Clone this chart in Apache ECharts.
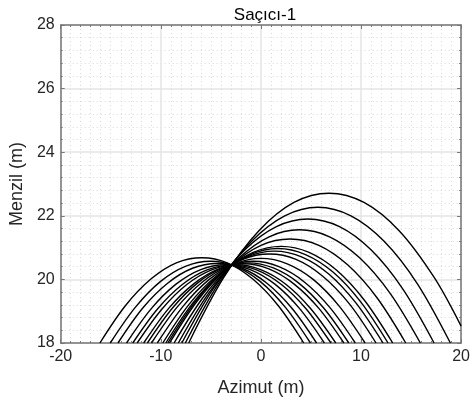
<!DOCTYPE html>
<html>
<head>
<meta charset="utf-8">
<script src="https://cdn.jsdelivr.net/npm/echarts@6/dist/echarts.min.js"></script>
<style>
html,body{margin:0;padding:0;background:#fff;}
#chart{width:473px;height:402px;}
</style>
</head>
<body>
<div id="chart"></div>
<script>
// Axis settings
const xRange = [-20, 20];
const yRange = [18, 28];
const xStep = 10;
const yStep = 2;

// Curves: [azimut, menzil] pairs
const curve01 = [[-16.08,18],[-13.54,19.17],[-10.99,20.01],[-8.45,20.52],[-5.9,20.68],[-3.36,20.52],[-0.81,20.01],[1.74,19.17],[4.28,18]];
const curve02 = [[-15.05,18],[-12.55,19.12],[-10.05,19.93],[-7.55,20.41],[-5.05,20.57],[-2.55,20.41],[-0.05,19.93],[2.45,19.12],[4.95,18]];
const curve03 = [[-14.28,18],[-11.8,19.10],[-9.32,19.88],[-6.84,20.35],[-4.36,20.50],[-1.88,20.35],[0.6,19.88],[3.08,19.10],[5.56,18]];
const curve04 = [[-13.42,18],[-10.95,19.08],[-8.48,19.85],[-6.01,20.31],[-3.54,20.46],[-1.07,20.31],[1.4,19.85],[3.87,19.08],[6.34,18]];
const curve05 = [[-12.8,18],[-10.33,19.07],[-7.85,19.84],[-5.38,20.30],[-2.9,20.45],[-0.43,20.30],[2.05,19.84],[4.53,19.07],[7.0,18]];
const curve06 = [[-12.36,18],[-9.88,19.07],[-7.4,19.84],[-4.92,20.30],[-2.44,20.46],[0.04,20.30],[2.52,19.84],[5.0,19.07],[7.48,18]];
const curve07 = [[-11.71,18],[-9.21,19.09],[-6.71,19.86],[-4.21,20.33],[-1.71,20.49],[0.79,20.33],[3.29,19.86],[5.79,19.09],[8.29,18]];
const curve08 = [[-11.34,18],[-8.83,19.10],[-6.31,19.89],[-3.8,20.36],[-1.28,20.52],[1.24,20.36],[3.75,19.89],[6.27,19.10],[8.78,18]];
const curve09 = [[-10.93,18],[-8.39,19.12],[-5.84,19.92],[-3.3,20.40],[-0.75,20.57],[1.8,20.40],[4.34,19.92],[6.88,19.12],[9.43,18]];
const curve10 = [[-10.35,18],[-7.76,19.16],[-5.16,20.0],[-2.57,20.49],[0.03,20.66],[2.63,20.49],[5.22,20.0],[7.82,19.16],[10.41,18]];
const curve11 = [[-9.8,18],[-7.14,19.23],[-4.48,20.1],[-1.81,20.63],[0.85,20.8],[3.51,20.63],[6.18,20.1],[8.84,19.23],[11.5,18]];
const curve12 = [[-9.5,18],[-6.79,19.26],[-4.08,20.17],[-1.36,20.71],[1.35,20.89],[4.06,20.71],[6.78,20.17],[9.49,19.26],[12.2,18]];
const curve13 = [[-9.3,18],[-6.55,19.30],[-3.8,20.23],[-1.05,20.78],[1.7,20.97],[4.45,20.78],[7.2,20.23],[9.95,19.30],[12.7,18]];
const curve14 = [[-9.13,18],[-6.34,19.33],[-3.56,20.28],[-0.77,20.85],[2.02,21.04],[4.81,20.85],[7.6,20.28],[10.38,19.33],[13.17,18]];
const curve15 = [[-8.67,18],[-5.78,19.43],[-2.89,20.45],[0.01,21.07],[2.9,21.27],[5.79,21.07],[8.69,20.45],[11.58,19.43],[14.47,18]];
const curve16 = [[-8.25,18],[-5.23,19.56],[-2.2,20.67],[0.82,21.34],[3.84,21.56],[6.86,21.34],[9.89,20.67],[12.91,19.56],[15.93,18]];
const curve17 = [[-7.9,18],[-4.75,19.71],[-1.6,20.93],[1.55,21.66],[4.7,21.9],[7.85,21.66],[11.0,20.93],[14.15,19.71],[17.3,18]];
const curve18 = [[-7.55,18],[-4.24,19.87],[-0.93,21.2],[2.38,22.0],[5.69,22.27],[9.0,22.0],[12.31,21.2],[15.62,19.87],[18.93,18]];
const curve19 = [[-7.21,18],[-3.71,20.06],[-0.2,21.53],[3.3,22.42],[6.8,22.71],[10.3,22.42],[13.81,21.53],[17.31,20.06],[20,18.53]];

const curves = [curve01,curve02,curve03,curve04,curve05,curve06,curve07,curve08,curve09,curve10,
                curve11,curve12,curve13,curve14,curve15,curve16,curve17,curve18,curve19];

const FONT = "'Liberation Sans', Arial, Helvetica, sans-serif";
const TXT = '#262626';
const FRAME = '#777777';

const chart = echarts.init(document.getElementById('chart'), null, {renderer: 'canvas'});

function xAx(pos, main) {
  return {
    type: 'value', position: pos, min: xRange[0], max: xRange[1], interval: xStep,
    name: main ? 'Azimut (m)' : '', nameLocation: 'middle', nameGap: 36,
    nameTextStyle: {fontFamily: FONT, fontSize: 18, color: TXT},
    axisLine: {show: true, onZero: false, lineStyle: {color: FRAME, width: 1.5}},
    axisTick: {show: true, inside: true, length: 4, lineStyle: {color: FRAME}},
    minorTick: {show: true, splitNumber: 10, length: 2, lineStyle: {color: FRAME}},
    axisLabel: {show: main, margin: 6, fontFamily: FONT, fontSize: 16, color: TXT},
    splitLine: {show: main, lineStyle: {color: '#e4e4e4', width: 1.5}},
    minorSplitLine: {show: main, lineStyle: {color: '#d8d8d8', width: 1, type: [1, 3]}}
  };
}
function yAx(pos, main) {
  return {
    type: 'value', position: pos, min: yRange[0], max: yRange[1], interval: yStep,
    name: main ? 'Menzil (m)' : '', nameLocation: 'middle', nameGap: 29, nameRotate: 90,
    nameTextStyle: {fontFamily: FONT, fontSize: 18, color: TXT},
    axisLine: {show: true, onZero: false, lineStyle: {color: FRAME, width: 1.5}},
    axisTick: {show: true, inside: true, length: 4, lineStyle: {color: FRAME}},
    minorTick: {show: true, splitNumber: 5, length: 2, lineStyle: {color: FRAME}},
    axisLabel: {show: main, margin: 6, fontFamily: FONT, fontSize: 16, color: TXT},
    splitLine: {show: main, lineStyle: {color: '#e4e4e4', width: 1.5}},
    minorSplitLine: {show: main, lineStyle: {color: '#d8d8d8', width: 1, type: [1, 3]}}
  };
}

chart.setOption({
  animation: false,
  backgroundColor: '#ffffff',
  title: {
    text: 'Saçıcı-1', left: 260, top: 2, textAlign: 'center',
    textStyle: {fontFamily: FONT, fontSize: 17, fontWeight: 'normal', color: '#000'}
  },
  grid: {left: 54, right: 7, top: 25, bottom: 59, containLabel: false},
  xAxis: [xAx('bottom', true), xAx('top', false)],
  yAxis: [yAx('left', true), yAx('right', false)],
  series: curves.map((c, i) => ({
    type: 'line', name: 'c' + (i + 1), data: c, xAxisIndex: 0, yAxisIndex: 0,
    smooth: 0.33, showSymbol: false, symbol: 'none', silent: true, clip: true,
    lineStyle: {color: '#000', width: 1.4}
  }))
});
</script>
</body>
</html>
